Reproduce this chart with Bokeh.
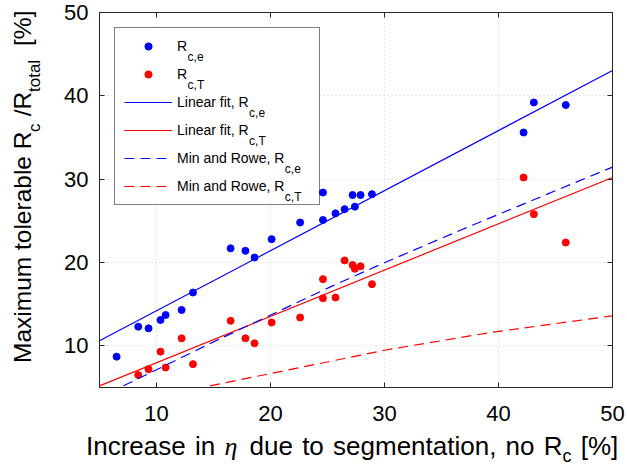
from bokeh.plotting import figure
from bokeh.models import (Range1d, LinearAxis, Legend, LegendItem,
                          FixedTicker, Div)
from bokeh.core.properties import value
from bokeh.layouts import row, column
from bokeh.embed import file_html
from bokeh.resources import INLINE

# ---------------- data ----------------
x_e = [6.5, 8.4, 9.3, 10.35, 10.8, 12.2, 13.2, 16.5, 17.8, 18.6, 20.1, 22.6,
       24.6, 24.6, 25.7, 26.5, 27.2, 27.4, 27.9, 28.9, 42.2, 43.1, 45.9]
y_e = [8.7, 12.3, 12.1, 13.1, 13.7, 14.3, 16.4, 21.7, 21.4, 20.6, 22.8, 24.8,
       25.1, 28.4, 25.9, 26.4, 28.1, 26.7, 28.1, 28.2, 35.6, 39.2, 38.9]

x_T = [8.4, 9.3, 10.35, 10.8, 12.2, 13.2, 16.5, 17.8, 18.6, 20.1, 22.6,
       24.6, 24.6, 25.7, 26.5, 27.2, 27.4, 27.9, 28.9, 42.2, 43.1, 45.9]
y_T = [6.5, 7.2, 9.3, 7.4, 10.9, 7.8, 13.0, 10.9, 10.3, 12.8, 13.4,
       15.7, 18.0, 15.8, 20.25, 19.7, 19.25, 19.55, 17.4, 30.2, 25.8, 22.4]

fit_x = [5, 50]
fit_e = [10.6, 43.05]
fit_T = [5.2, 30.2]

mr_e_x = [7.1, 15.5, 25.3, 29.7, 36.7, 50]
mr_e_y = [5.2, 10.8, 17.1, 19.8, 23.9, 31.45]
mr_T_x = [14.7, 22.6, 30.1, 39.3, 50]
mr_T_y = [5.2, 7.4, 9.5, 11.6, 13.6]

x_ticks = [10, 20, 30, 40, 50]
y_ticks = [10, 20, 30, 40, 50]

legend_labels = [("R", "c,e"), ("R", "c,T"), ("Linear fit, R", "c,e"),
                 ("Linear fit, R", "c,T"), ("Min and Rowe, R", "c,e"),
                 ("Min and Rowe, R", "c,T")]

BLUE = "#0000ff"
RED = "#ff0000"
AX = "#262626"
FONT = "Liberation Sans"

# ---------------- geometry ----------------
X0, X1, Y0, Y1 = 5, 50, 5, 50
YDIV_W = 45
FW, FH = 513, 375
B_LEFT, B_RIGHT, B_TOP, B_BOTTOM = 54, 14, 12, 44
FIG_H = B_TOP + FH + B_BOTTOM

# legend box geometry (pixels, relative to the frame's top-left corner)
L_MARGIN, L_PAD, L_SPACING = 15, 9, 10
L_ROW_H, L_GLYPH_W, L_STANDOFF, L_LABEL_W = 18, 48, 5, 133
L_W = 2 * L_PAD + L_GLYPH_W + L_STANDOFF + L_LABEL_W
L_H = 2 * L_PAD + 6 * L_ROW_H + 5 * L_SPACING


def px2x(px):
    return X0 + px * (X1 - X0) / FW


def py2y(py):  # py measured downward from the frame top
    return Y1 - py * (Y1 - Y0) / FH


p = figure(frame_width=FW, frame_height=FH,
           x_range=Range1d(X0, X1), y_range=Range1d(Y0, Y1),
           output_backend="svg", toolbar_location=None,
           min_border_left=B_LEFT, min_border_right=B_RIGHT,
           min_border_top=B_TOP, min_border_bottom=B_BOTTOM)
p.background_fill_color = "white"
p.border_fill_color = "white"
p.outline_line_color = AX
p.outline_line_width = 1

bottom_ax = p.below[0]
left_ax = p.left[0]
bottom_ax.ticker = FixedTicker(ticks=x_ticks)
left_ax.ticker = FixedTicker(ticks=y_ticks)

top_ax = LinearAxis(ticker=FixedTicker(ticks=x_ticks))
right_ax = LinearAxis(ticker=FixedTicker(ticks=y_ticks))
p.add_layout(top_ax, "above")
p.add_layout(right_ax, "right")

for ax in [bottom_ax, left_ax, top_ax, right_ax]:
    ax.major_tick_in = 5
    ax.major_tick_out = 0
    ax.minor_tick_line_color = None
    ax.axis_line_color = AX
    ax.major_tick_line_color = AX
    ax.major_label_text_font = FONT
    ax.major_label_text_font_size = "22px"
    ax.major_label_text_color = "black"
for ax in [top_ax, right_ax]:
    ax.major_label_text_font_size = "1px"
    ax.major_label_text_color = None
    ax.major_label_standoff = 0
bottom_ax.major_label_standoff = 18
left_ax.major_label_standoff = 11

p.grid.grid_line_color = "#cfcfcf"
p.grid.grid_line_dash = "1 3"
p.grid.grid_line_width = 1

# ---------------- data glyphs ----------------
r_e = p.scatter(x_e, y_e, size=7, color=BLUE)
r_T = p.scatter(x_T, y_T, size=7, color=RED)
l_e = p.line(fit_x, fit_e, color=BLUE, line_width=1.2)
l_T = p.line(fit_x, fit_T, color=RED, line_width=1.2)
m_e = p.line(mr_e_x, mr_e_y, color=BLUE, line_width=1.2, line_dash="10 6")
m_T = p.line(mr_T_x, mr_T_y, color=RED, line_width=1.2, line_dash="10 6")

# ---------------- legend ----------------
# white background of the legend box (drawn above the grid)
p.quad(left=[px2x(L_MARGIN)], right=[px2x(L_MARGIN + L_W)],
       top=[py2y(L_MARGIN)], bottom=[py2y(L_MARGIN + L_H)],
       fill_color="white", line_color=None)

# subscripts of the legend labels
LEG_SIZE = 14
main_w = {"R": 0.722, "Linear fit, R": 5.113, "Min and Rowe, R": 7.669}
text_x0 = L_MARGIN + L_PAD + L_GLYPH_W + L_STANDOFF
sub_x, sub_y, sub_t = [], [], []
for i, (main, sub) in enumerate(legend_labels):
    cy = L_MARGIN + L_PAD + L_ROW_H / 2 + (L_ROW_H + L_SPACING) * i
    sub_x.append(px2x(text_x0 + main_w[main] * LEG_SIZE + 1))
    sub_y.append(py2y(cy + 11))
    sub_t.append(sub)
p.text(x=sub_x, y=sub_y, text=sub_t, text_font=value(FONT),
       text_font_size=value("12px"), text_color="black",
       text_baseline="alphabetic", text_align="left")

rends = [r_e, r_T, l_e, l_T, m_e, m_T]
legend = Legend(items=[LegendItem(label=lab[0], renderers=[r])
                       for lab, r in zip(legend_labels, rends)],
                location="top_left", margin=L_MARGIN, padding=L_PAD,
                spacing=L_SPACING, glyph_height=L_ROW_H,
                label_height=L_ROW_H, glyph_width=L_GLYPH_W,
                label_standoff=L_STANDOFF, label_width=L_LABEL_W,
                border_line_color="black", border_line_width=1,
                background_fill_alpha=0,
                label_text_font=FONT, label_text_font_size=f"{LEG_SIZE}px",
                label_text_color="black")
p.add_layout(legend)

# ---------------- axis labels as HTML text ----------------
ylab_html = (
    f'<div style="writing-mode:vertical-rl; transform:rotate(180deg); '
    f'width:{YDIV_W}px; height:{FIG_H}px; box-sizing:border-box; '
    f'padding-top:{FIG_H - 363}px; font-family:\'{FONT}\'; font-size:24.5px; '
    f'line-height:{YDIV_W}px; color:black; white-space:nowrap;">'
    'Maximum tolerable R'
    '<span style="font-size:17px; position:relative; left:-12px;">c</span>'
    ' /R'
    '<span style="font-size:17px; position:relative; left:-12px;">total</span>'
    '&nbsp; [%]</div>')
ydiv = Div(text=ylab_html, width=YDIV_W, height=FIG_H, margin=0)

XDIV_H = 38
xlab_html = (
    f'<div style="position:relative; top:2px; padding-left:86px; '
    f'font-family:\'{FONT}\'; font-size:26px; line-height:26px; '
    'word-spacing:2px; color:black; white-space:nowrap;">'
    'Increase in <i style="font-family:\'Liberation Serif\'; '
    'margin-right:3px;">\u03b7</i> due to segmentation, no R'
    '<span style="font-size:18px; position:relative; top:7px;">c</span>'
    ' [%]</div>')
xdiv = Div(text=xlab_html, width=YDIV_W + B_LEFT + FW + B_RIGHT,
           height=XDIV_H, margin=0)

layout = column(row(ydiv, p, spacing=0), xdiv, spacing=0)

open("out.html", "w").write(file_html(layout, INLINE))
